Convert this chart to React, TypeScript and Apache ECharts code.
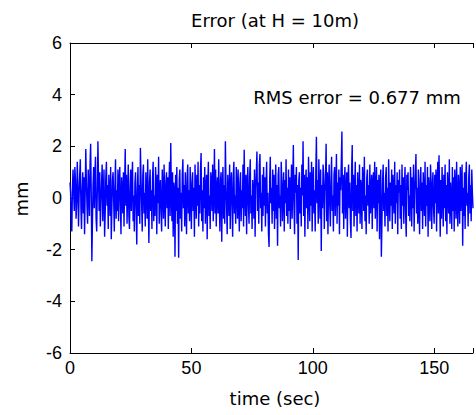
import React, { useEffect, useRef } from "react";
import * as echarts from "echarts";

// Sample spacing of the error record (seconds)
const sampleStep = 0.25;

// Error values (mm), one per 0.25 s from t = 0 to t = 166 s
const errorMm: number[] = [
  0.6, 0.2, -0.9, -1.3, 0.4, 1.1, 0.3, -0.5, 1.2, 0.7, -0.8, -0.2, 1.4, 0.5, -1.1, 0.1, 0.9, 1.5, -0.4, -1.2,
  0.3, 1.0, -0.6, 0.8, -1.4, 0.2, 1.9, 0.6, -0.3, -1.0, 1.1, 0.4, -0.7, 1.3, 2.1, 0.2, -2.45, -0.9, 0.5, 1.2,
  -0.4, 0.9, 1.6, -0.8, -1.3, 0.3, 2.2, 0.7, -0.5, 1.0, -1.1, -0.2, 0.6, 1.3, -0.9, 0.1, 1.1, -1.5, -0.6, 0.8,
  1.4, -0.3, 0.5, -1.2, 0.9, 0.2, -0.7, 1.2, -1.6, -0.4, 0.7, 1.0, -0.1, -1.3, 0.4, 1.5, -0.8, 0.3, -0.5, 1.1,
  -0.9, 0.6, 1.2, -0.2, -1.4, 0.8, 0.3, -0.6, 1.0, -1.1, 0.5, 1.9, -0.3, 0.9, -1.0, 0.2, 1.3, -0.7, -1.2, 0.4,
  1.1, -0.5, 0.7, 1.4, -0.9, 0.1, -1.3, 0.6, 1.0, -0.4, -1.8, 0.3, 1.2, -0.7, 0.5, -1.0, 1.94, 0.8, -0.2, -1.3,
  0.9, 1.3, -0.6, 0.2, -1.1, 1.0, 0.4, -0.8, 1.5, -0.3, -1.74, 0.6, 1.1, -0.5, 0.3, -1.2, 0.8, 1.4, -0.9, 0.1,
  -0.7, 1.2, 0.5, -1.4, 0.9, -0.2, 1.6, -1.0, 0.3, 0.7, -0.6, -1.3, 1.1, 0.4, -0.8, 1.3, 0.0, -1.1, 0.6, 1.0,
  -0.4, 0.8, -1.2, 0.5, 1.4, -0.7, 2.13, 0.2, -0.9, 1.0, -1.5, 0.6, 0.3, -2.27, 0.9, -0.5, 1.2, -1.0, 0.4, -2.31,
  0.7, 1.1, -0.8, 0.2, -1.3, 0.9, 1.5, -0.4, 0.5, -1.1, 1.0, -0.2, -1.4, 0.8, 1.3, -0.6, 0.3, -0.9, 1.2, 0.1,
  -1.2, 0.6, 1.0, -0.5, 0.4, -1.5, 1.3, 0.2, -0.8, 0.9, -0.3, 1.4, -1.1, 0.5, -0.6, 1.1, 1.74, -0.9, 0.3, -1.3,
  0.8, -0.4, 1.2, -1.0, 0.3, 0.9, -1.6, 0.5, 1.4, -0.7, 0.1, -1.2, 1.0, 0.6, -0.5, 1.3, -0.9, 0.2, 1.9, -0.6,
  1.1, -1.1, 0.4, 0.8, -0.6, 1.5, -0.2, -1.3, 0.7, 1.0, -1.69, 0.3, 1.2, -0.8, 0.5, -1.0, 2.2, 0.6, -0.4, -1.4,
  0.9, 0.2, -0.7, 1.3, -1.2, 0.5, 1.0, -0.3, -1.5, 0.8, 1.4, -0.6, 0.1, -1.0, 1.2, 0.4, -0.8, 1.1, -0.2, -1.3,
  0.6, 1.0, -0.9, 0.3, -0.4, 1.3, -1.1, 1.87, 0.2, -0.7, 0.9, -1.4, 0.5, 1.2, -0.3, -1.0, 0.8, 1.5, -0.6, 0.1,
  -1.2, 0.7, 0.3, -0.8, 1.1, -1.5, 0.4, 1.0, 1.8, -0.5, 0.6, -1.0, 1.3, 1.7, -0.4, 0.2, -1.3, 0.9, -0.7, 1.2,
  -0.3, 0.8, -1.1, 0.5, 1.4, -0.6, 0.2, -1.4, -1.9, 0.7, 1.6, -0.2, 0.4, -1.0, 1.1, -0.5, 0.9, -1.2, 0.3, 1.3,
  -0.8, 0.5, -1.85, 0.9, 1.2, -0.4, 0.1, -1.1, 1.4, 0.6, -0.9, 0.3, 1.0, -1.3, 0.7, -0.2, 1.5, -0.7, 0.4, -1.0,
  1.1, -0.5, 0.8, -1.2, 0.3, 1.3, -0.8, 0.6, 2.05, -0.3, -1.4, 0.9, 0.2, 1.2, -1.0, 0.5, -2.4, 0.7, 1.0, -0.6,
  0.4, -1.1, 1.3, 0.1, 2.2, -0.7, 0.9, -1.5, 0.5, 1.1, -0.4, 0.8, -1.2, 1.6, 0.2, -0.9, 1.0, -0.3, 1.4, -1.3,
  0.6, 1.2, -0.6, 0.3, -1.3, 1.0, 2.37, -0.2, 0.7, -1.0, 1.5, 0.4, -0.8, 1.1, -2.05, 0.5, -0.4, 1.3, 0.9, -1.2,
  0.2, 0.8, 2.1, -0.9, 1.0, -1.4, 0.5, 1.3, -0.3, -1.1, 0.7, 1.6, -0.5, 0.1, -1.3, 0.9, 1.2, -0.7, 0.4, 1.7,
  -1.0, 0.6, -0.3, 1.1, -1.4, 0.8, 0.3, 1.4, 2.57, -0.6, 0.9, -1.2, 0.5, 1.2, -0.8, 0.2, 1.0, -1.5, 0.7, 1.3,
  -0.4, 0.6, -0.9, -1.55, 1.1, 2.05, -0.5, 0.9, -1.1, 0.3, 1.4, -0.7, 0.5, -1.3, 1.0, 0.2, -0.6, 1.3, -1.0, 0.7,
  0.4, -1.2, 1.2, 0.6, -0.5, 1.6, -0.9, 0.1, -1.4, 0.8, 1.1, -0.3, 0.5, -1.0, 1.3, -0.6, 0.2, 0.9, -1.2, 0.6,
  1.0, -0.4, 1.4, -0.8, 0.3, 1.2, -1.3, 0.7, -0.2, 0.9, -1.6, 0.5, 1.1, -2.27, -0.9, 0.6, 1.3, -0.5, 0.2, -1.1,
  0.8, 1.2, -0.7, 0.4, -1.3, 1.5, 0.1, -0.9, 0.6, -0.3, 1.1, -1.2, 0.9, 0.3, -0.6, 1.4, -1.0, 0.5, -0.2, 1.0,
  -1.4, 0.7, 0.2, 1.1, -0.8, 0.5, -1.2, 1.3, -0.3, 0.8, -1.0, 0.4, 1.2, -0.6, -1.5, 0.9, 0.3, 1.0, -0.7, 0.1,
  -0.9, 1.2, 0.5, -1.1, 0.8, -0.4, 1.3, -1.3, 0.2, 0.9, 1.7, -0.6, 0.4, -1.0, 1.1, -0.2, -1.4, 0.7, 1.2, -0.5,
  0.6, -1.2, 1.0, 0.3, -0.7, 1.4, -1.1, 0.5, -0.3, 1.2, -1.5, 0.8, 0.1, -0.9, 1.3, 0.6, -1.2, 0.4, 1.0, -0.4,
  -1.0, 0.9, -0.2, 1.1, -1.3, 0.5, 1.4, -0.6, 1.65, 0.3, -1.5, 0.7, -0.8, 1.2, 0.2, -1.1, 0.9, -0.4, 1.3, -0.9,
  0.5, -1.4, 1.0, 0.3, -0.6, 1.5, -1.0, 0.6, 0.1, -1.2, 1.2, -0.5, 0.8, -1.3, 1.1, 0.4, -0.8, 1.4, -0.2, -1.1,
  0.9, 0.3, -1.0, 1.2, -0.5, 0.7, 1.3, -1.85, 0.4, -0.7, 1.0, -1.2, 0.6, 1.4, -0.3, 0.2, -1.1, 0.8, 1.3, -0.6,
  0.5, -0.9, 1.1, 0.2, -0.4,
];

const xMin = 0;
const xMax = 166;
const xInterval = 50;
const yMin = -6;
const yMax = 6;
const yInterval = 2;

const titleText = "Error (at H = 10m)";
const xLabel = "time (sec)";
const yLabel = "mm";
const rmsText = "RMS error = 0.677 mm";

const TICK_FONT = "'Liberation Sans', Arial, Helvetica, sans-serif";
const TEXT_FONT = "'DejaVu Sans', 'Liberation Sans', sans-serif";

export default function App() {
  const ref = useRef<HTMLDivElement>(null);

  useEffect(() => {
    if (!ref.current) return;
    const chart = echarts.init(ref.current, undefined, { renderer: "svg" });
    const axisLine = { show: true, onZero: false, lineStyle: { color: "#000", width: 1 } };
    const axisTick = { show: true, inside: true, length: 5, lineStyle: { color: "#000", width: 1 } };
    const seriesData = errorMm.map((v, i) => [i * sampleStep, v]);
    const textStyle = (text: string) => ({
      text,
      fill: "#000",
      fontSize: 18,
      fontFamily: TEXT_FONT,
      align: "center",
      verticalAlign: "middle",
      textAlign: "center",
      textVerticalAlign: "middle",
    });

    chart.setOption({
      animation: false,
      backgroundColor: "#fff",
      grid: { left: 70, right: -4, top: 43, bottom: 62 },
      xAxis: [
        {
          type: "value",
          position: "bottom",
          min: xMin,
          max: xMax,
          interval: xInterval,
          axisLine,
          axisTick,
          splitLine: { show: false },
          axisLabel: {
            color: "#000",
            fontSize: 18,
            fontFamily: TICK_FONT,
            margin: 6,
            formatter: (v: number) => (v % xInterval === 0 ? String(v) : ""),
          },
        },
        {
          type: "value",
          position: "top",
          min: xMin,
          max: xMax,
          interval: xInterval,
          axisLine,
          axisTick,
          splitLine: { show: false },
          axisLabel: { show: false },
        },
      ],
      yAxis: [
        {
          type: "value",
          position: "left",
          min: yMin,
          max: yMax,
          interval: yInterval,
          axisLine,
          axisTick,
          splitLine: { show: false },
          axisLabel: { color: "#000", fontSize: 18, fontFamily: TICK_FONT, margin: 8 },
        },
      ],
      series: [
        {
          type: "line",
          data: seriesData,
          xAxisIndex: 0,
          yAxisIndex: 0,
          showSymbol: false,
          symbol: "none",
          clip: true,
          lineStyle: { color: "#0000ff", width: 1.4 },
        },
      ],
      graphic: [
        { type: "text", x: 275, y: 20, style: textStyle(titleText) },
        { type: "text", x: 275, y: 398, style: textStyle(xLabel) },
        { type: "text", x: 21, y: 199, rotation: Math.PI / 2, style: textStyle(yLabel) },
        { type: "text", x: 357, y: 97, style: textStyle(rmsText) },
      ],
    });

    return () => chart.dispose();
  }, []);

  return (
    <div
      ref={ref}
      style={{ position: "absolute", left: 0, top: 0, width: 476, height: 415 }}
    />
  );
}
